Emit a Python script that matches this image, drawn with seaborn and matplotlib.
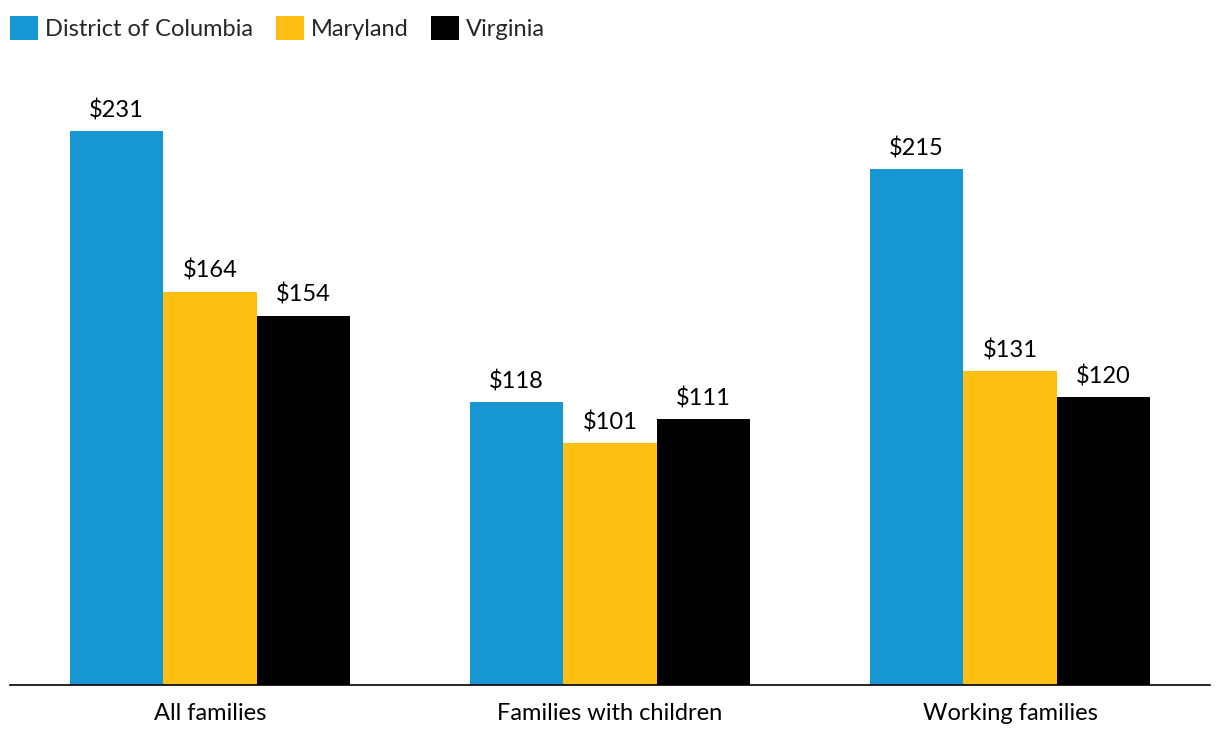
import matplotlib
matplotlib.use("Agg")
import matplotlib.pyplot as plt
import seaborn as sns
import pandas as pd
from matplotlib.patches import Patch

categories = ["All families", "Families with children", "Working families"]
states = ["District of Columbia", "Maryland", "Virginia"]
dc_values = [231, 118, 215]
md_values = [164, 101, 131]
va_values = [154, 111, 120]
colors = ["#1696d2", "#fdbf11", "#000000"]

rows = []
for state, vals in zip(states, [dc_values, md_values, va_values]):
    for cat, v in zip(categories, vals):
        rows.append({"category": cat, "state": state, "value": v})
df = pd.DataFrame(rows)

sns.set_theme(style="white")
plt.rcParams["font.family"] = ["Lato", "DejaVu Sans"]

fig = plt.figure(figsize=(12.2, 7.42), dpi=100)
ax = fig.add_axes([10 / 1220, (742 - 685) / 742, 1200 / 1220, 620 / 742])

sns.barplot(data=df, x="category", y="value", hue="state", order=categories,
            hue_order=states, palette=colors, width=0.7, saturation=1,
            legend=False, ax=ax, errorbar=None, linewidth=0, edgecolor="none")

ax.set_xlim(-0.5, 2.5)
ax.set_ylim(0, 258.5)
for c in ax.containers:
    ax.bar_label(c, labels=[f"${v:.0f}" for v in c.datavalues], padding=7,
                 fontsize=17, color="#000000")

ax.set_xlabel("")
ax.set_ylabel("")
ax.set_yticks([])
ax.tick_params(axis="x", length=0, pad=13, labelsize=17, labelcolor="#000000")
for s in ["top", "right", "left"]:
    ax.spines[s].set_visible(False)
ax.spines["bottom"].set_color("#000000")
ax.spines["bottom"].set_linewidth(1.2)

handles = [Patch(facecolor=c, edgecolor="none") for c in colors]
fig.legend(handles, states, loc="upper left", bbox_to_anchor=(3 / 1220, 1 - 9 / 742),
           ncol=3, frameon=False, fontsize=17, handlelength=1.19, handleheight=1.19,
           handletextpad=0.3, columnspacing=0.95, borderaxespad=0, borderpad=0.3)

fig.savefig("out.png", dpi=100, facecolor="white")
